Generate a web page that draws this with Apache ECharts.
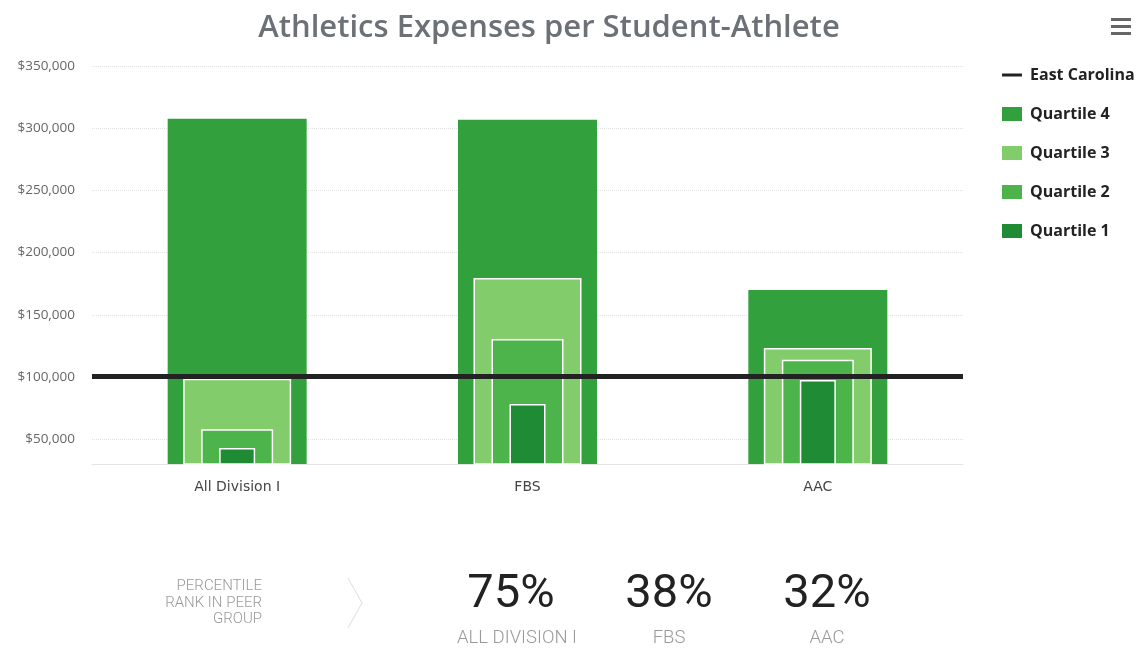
<!DOCTYPE html>
<html>
<head>
<meta charset="utf-8">
<script src="https://cdn.jsdelivr.net/npm/echarts@6/dist/echarts.min.js"></script>
<style>
html,body{margin:0;padding:0;background:#fff;}
#chart{width:1143px;height:656px;}
</style>
</head>
<body>
<div id="chart"></div>
<script>
const categories = ['All Division I', 'FBS', 'AAC'];
const quartile4 = [307500, 306800, 170000];
const quartile3 = [98500, 179500, 123300];
const quartile2 = [58000, 130500, 113800];
const quartile1 = [42800, 78300, 97500];
const eastCarolina = 100500;
const yTicks = [50000, 100000, 150000, 200000, 250000, 300000, 350000];
const percentileRanks = [75, 38, 32];
const peerGroupLabels = ['ALL DIVISION I', 'FBS', 'AAC'];

const colors = { q4: '#32a03d', q3: '#82cc6c', q2: '#4db34b', q1: '#1f8b34' };

const chart = echarts.init(document.getElementById('chart'));

function xAx(show) {
  return {
    type: 'category', data: categories, gridIndex: 0, show: show,
    axisLine: { show: true, lineStyle: { color: '#e4e4e4', width: 1 } },
    axisTick: { show: false },
    axisLabel: { color: '#444', fontSize: 14, fontFamily: 'DejaVu Sans', margin: 16 }
  };
}

function barSeries(name, data, idx, width, color, z, border) {
  return {
    name: name, type: 'bar', xAxisIndex: idx, data: data, barWidth: width, z: z,
    itemStyle: { color: color, borderColor: '#ffffff', borderWidth: border ? 1.5 : 0 },
    emphasis: { disabled: true }, silent: true
  };
}

const peerGraphics = [];
const numCenters = [511, 669, 827];
const labelCenters = [517, 669, 827];
percentileRanks.forEach((p, i) => {
  peerGraphics.push({
    type: 'text', x: numCenters[i], y: 595,
    style: { text: p + '%', font: '400 47px Roboto', fill: '#222', align: 'center', verticalAlign: 'middle' }
  });
  peerGraphics.push({
    type: 'text', x: labelCenters[i], y: 638,
    style: { text: peerGroupLabels[i], font: '300 18.5px Roboto', fill: '#999', align: 'center', verticalAlign: 'middle' }
  });
});

const option = {
  backgroundColor: '#fff',
  animation: false,
  title: {
    text: 'Athletics Expenses per Student-Athlete',
    left: 544, top: 8, textAlign: 'center',
    textStyle: { fontFamily: 'Open Sans', fontWeight: 600, fontSize: 31, color: '#6c7177' }
  },
  legend: {
    orient: 'vertical', left: 997, top: 62,
    itemWidth: 20, itemHeight: 14, itemGap: 23,
    data: [
      { name: 'East Carolina', icon: 'path://M0,0L20,0L20,3L0,3Z' },
      { name: 'Quartile 4', icon: 'rect' },
      { name: 'Quartile 3', icon: 'rect' },
      { name: 'Quartile 2', icon: 'rect' },
      { name: 'Quartile 1', icon: 'rect' }
    ],
    textStyle: { fontFamily: 'Open Sans', fontWeight: 'bold', fontSize: 16, color: '#222', padding: [0, 0, 0, 3] },
    itemStyle: { borderWidth: 0 },
    selectedMode: false
  },
  grid: { left: 92, right: 180, top: 66, bottom: 192, containLabel: false },
  xAxis: [xAx(true), xAx(false), xAx(false), xAx(false)],
  yAxis: {
    type: 'value', min: 30000, max: 350000, interval: 10000,
    axisLine: { show: false }, axisTick: { show: false }, splitLine: { show: false },
    axisLabel: {
      color: '#666', fontSize: 13.5, fontFamily: 'Open Sans', margin: 17,
      formatter: v => (v % 50000 === 0 ? '$' + v.toLocaleString('en-US') : '')
    }
  },
  series: [
    {
      name: 'gridlines', type: 'line', data: [], silent: true, z: 1,
      markLine: {
        silent: true, symbol: 'none', z: 1, label: { show: false },
        lineStyle: { color: '#e2e2e2', type: 'dotted', width: 1 },
        data: yTicks.map(v => ({ yAxis: v }))
      }
    },
    barSeries('Quartile 4', quartile4, 0, 139, colors.q4, 2, false),
    barSeries('Quartile 3', quartile3, 1, 108, colors.q3, 3, true),
    barSeries('Quartile 2', quartile2, 2, 72, colors.q2, 4, true),
    barSeries('Quartile 1', quartile1, 3, 36, colors.q1, 5, true),
    {
      name: 'East Carolina', type: 'line', data: [null, null, null], symbol: 'none', z: 10,
      color: '#222', itemStyle: { color: '#222' }, lineStyle: { color: '#222', width: 3 },
      markLine: {
        silent: true, symbol: 'none', z: 10, label: { show: false },
        lineStyle: { color: '#222', type: 'solid', width: 5 },
        data: [{ yAxis: eastCarolina }]
      }
    }
  ],
  graphic: [
    { type: 'rect', shape: { x: 1111, y: 18, width: 20, height: 3 }, style: { fill: '#666' } },
    { type: 'rect', shape: { x: 1111, y: 25, width: 20, height: 3 }, style: { fill: '#666' } },
    { type: 'rect', shape: { x: 1111, y: 32, width: 20, height: 3 }, style: { fill: '#666' } },
    { type: 'text', x: 262, y: 603, style: { text: 'PERCENTILE\nRANK IN PEER\nGROUP', font: '300 15px Roboto', lineHeight: 16.5, fill: '#999', align: 'right', verticalAlign: 'middle' } },
    { type: 'polyline', shape: { points: [[348, 578], [362, 603], [348, 628]] }, style: { stroke: '#ddd', lineWidth: 1, fill: 'none' } }
  ].concat(peerGraphics)
};

chart.setOption(option);
</script>
</body>
</html>
